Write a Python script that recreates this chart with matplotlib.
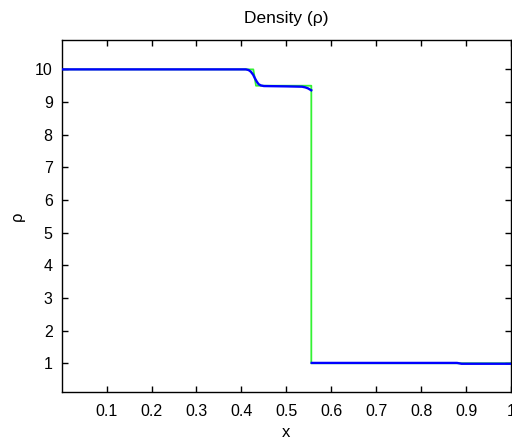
import numpy as np
import matplotlib
matplotlib.use("Agg")
import matplotlib.pyplot as plt

plt.rcParams['font.family'] = ['Liberation Sans', 'DejaVu Sans']

# exact solution (piecewise: left state, rarefaction, plateau, shock, right state)
x_exact = [0.0, 0.4265, 0.4325, 0.5556, 0.5556, 1.0]
rho_exact = [10.0, 10.0, 9.5, 9.5, 1.0, 1.0]

# numerical solution, NaN splits the two sides of the shock
x_num = [0.0, 0.410, 0.416, 0.421, 0.426, 0.430, 0.434, 0.438, 0.443, 0.450,
         0.500, 0.535, 0.542, 0.548, 0.553, 0.5555, np.nan,
         0.5565, 0.880, 0.890, 1.0]
rho_num = [10.0, 10.0, 9.98, 9.93, 9.84, 9.73, 9.63, 9.55, 9.51, 9.49,
           9.48, 9.47, 9.45, 9.42, 9.38, 9.36, np.nan,
           1.01, 1.01, 0.985, 0.985]

x_ticks = [0.1, 0.2, 0.3, 0.4, 0.5, 0.6, 0.7, 0.8, 0.9, 1.0]
x_tick_labels = ['0.1', '0.2', '0.3', '0.4', '0.5', '0.6', '0.7', '0.8', '0.9', '1']
y_ticks = [1, 2, 3, 4, 5, 6, 7, 8, 9, 10]

fig = plt.figure(figsize=(5.12, 4.46), dpi=100)
ax = fig.add_axes([0.1205, 0.1211, 0.8775, 0.7892])

ax.plot(x_exact, rho_exact, color=(0.2, 0.95, 0.2), linewidth=1.3, zorder=2)
ax.plot(x_num, rho_num, color=(0.0, 0.0, 1.0), linewidth=1.7, zorder=3)

ax.set_xlim(0, 1)
ax.set_ylim(0.12, 10.9)
ax.set_xticks(x_ticks)
ax.set_xticklabels(x_tick_labels)
ax.set_yticks(y_ticks)
ax.tick_params(direction='in', length=4, width=1, top=True, right=True,
               labelsize=11.5, colors='black')
ax.tick_params(axis='x', pad=9)
ax.tick_params(axis='y', pad=6.5)
for s in ax.spines.values():
    s.set_linewidth(1.0)

ax.set_title('Density (ρ)', fontsize=12.5, pad=12)
ax.set_xlabel('x', fontsize=12, labelpad=4)
ax.set_ylabel('ρ', fontsize=12, labelpad=7)

fig.savefig('out.png', dpi=100)
